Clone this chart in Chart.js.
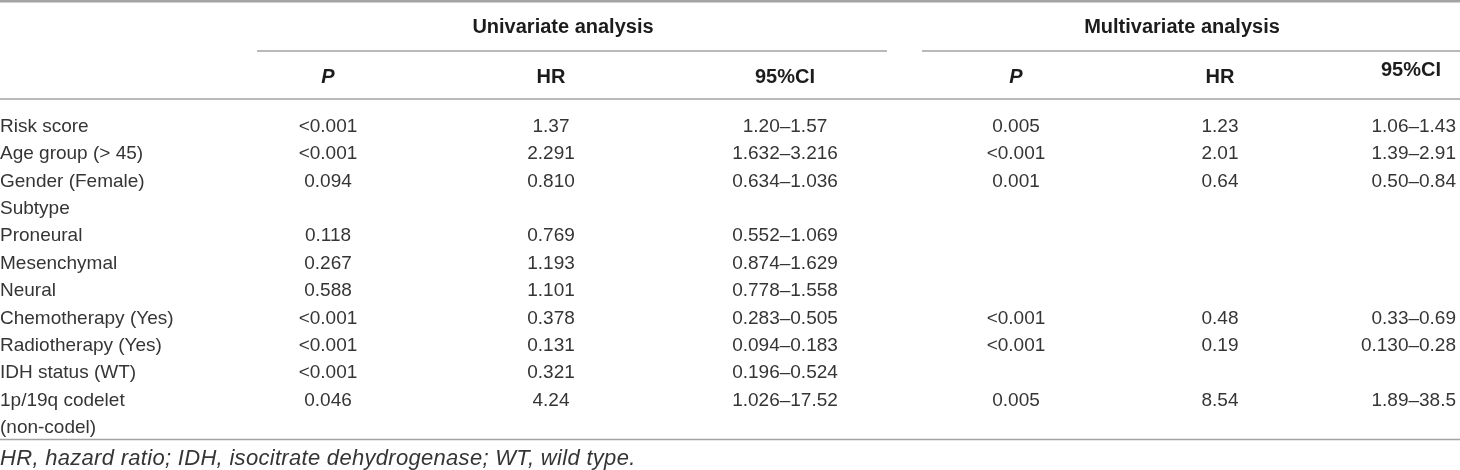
<!DOCTYPE html>
<html lang="en">
<head>
    <meta charset="UTF-8">
    <title>Cox regression table</title>
    <script src="https://cdn.jsdelivr.net/npm/chart.js"></script>
    <style>
        html, body { margin: 0; padding: 0; background: #fff; }
        canvas { display: block; }
    </style>
</head>
<body>
    <canvas id="tabela" width="1460" height="470"></canvas>
    <script>
        // table content
        const rowLabels = ['Risk score', 'Age group (> 45)', 'Gender (Female)', 'Subtype', 'Proneural', 'Mesenchymal',
            'Neural', 'Chemotherapy (Yes)', 'Radiotherapy (Yes)', 'IDH status (WT)', '1p/19q codelet', '(non-codel)']
        const uniP = ['<0.001', '<0.001', '0.094', '', '0.118', '0.267', '0.588', '<0.001', '<0.001', '<0.001', '0.046', '']
        const uniHR = ['1.37', '2.291', '0.810', '', '0.769', '1.193', '1.101', '0.378', '0.131', '0.321', '4.24', '']
        const uniCI = ['1.20–1.57', '1.632–3.216', '0.634–1.036', '', '0.552–1.069', '0.874–1.629', '0.778–1.558',
            '0.283–0.505', '0.094–0.183', '0.196–0.524', '1.026–17.52', '']
        const multiP = ['0.005', '<0.001', '0.001', '', '', '', '', '<0.001', '<0.001', '', '0.005', '']
        const multiHR = ['1.23', '2.01', '0.64', '', '', '', '', '0.48', '0.19', '', '8.54', '']
        const multiCI = ['1.06–1.43', '1.39–2.91', '0.50–0.84', '', '', '', '', '0.33–0.69', '0.130–0.28', '', '1.89–38.5', '']
        const groupTitles = ['Univariate analysis', 'Multivariate analysis']
        const colTitles = ['P', 'HR', '95%CI', 'P', 'HR', '95%CI']
        const footnote = 'HR, hazard ratio; IDH, isocitrate dehydrogenase; WT, wild type.'

        // layout: x in table units (= canvas px), y in row units (row 0 = first body row)
        const colX = [0, 328, 551, 785, 1016, 1220, 1456]
        const colAlign = ['left', 'center', 'center', 'center', 'center', 'center', 'right']
        const headX = [328, 551, 785, 1016, 1220, 1411]
        const groupSpan = [[257, 887], [922, 1460]]
        const groupX = [563, 1182]
        const yTop = -4.562, yBottom = 12.591
        const yTitle = -3.613, yGroupLine = -2.701, yColTitle = -1.788, yColTitleLast = -2.044
        const yHeadRule = -0.949, yTopRule = -4.52, yBottomRule = 11.478, yFoot = 12.117
        const textNudge = 1.5 // px, canvas 'middle' sits a bit high for this font

        const fonte = '"Liberation Sans", Arial, Helvetica, sans-serif'
        const corTexto = '#353535'
        const corLinha = '#a3a3a3'

        const colunas = [rowLabels, uniP, uniHR, uniCI, multiP, multiHR, multiCI]
        const datasets = colunas.map((col, c) => ({
            label: 'col' + c,
            texts: col,
            data: col.map((t, i) => ({ x: colX[c], y: i })),
            pointRadius: 0,
            showLine: false
        }))

        const linha = (ctx, x1, x2, y, w) => {
            ctx.beginPath()
            ctx.lineWidth = w
            ctx.strokeStyle = corLinha
            ctx.moveTo(x1, y)
            ctx.lineTo(x2, y)
            ctx.stroke()
        }

        const tabelaPlugin = {
            id: 'tabela',
            afterDatasetsDraw(chart) {
                const ctx = chart.ctx
                const sx = chart.scales.x
                const sy = chart.scales.y
                ctx.save()

                // rules
                linha(ctx, sx.getPixelForValue(0), sx.getPixelForValue(1460), sy.getPixelForValue(yTopRule), 2.5)
                groupSpan.forEach(s => linha(ctx, sx.getPixelForValue(s[0]), sx.getPixelForValue(s[1]), sy.getPixelForValue(yGroupLine), 1.5))
                linha(ctx, sx.getPixelForValue(0), sx.getPixelForValue(1460), sy.getPixelForValue(yHeadRule), 1.5)
                linha(ctx, sx.getPixelForValue(0), sx.getPixelForValue(1460), sy.getPixelForValue(yBottomRule), 1.5)

                // headers
                ctx.fillStyle = '#1c1c1c'
                ctx.textBaseline = 'middle'
                ctx.textAlign = 'center'
                ctx.font = 'bold 20px ' + fonte
                groupTitles.forEach((t, g) => ctx.fillText(t, sx.getPixelForValue(groupX[g]), sy.getPixelForValue(yTitle) + textNudge))
                colTitles.forEach((t, c) => {
                    ctx.font = (t === 'P' ? 'italic bold 20px ' : 'bold 20px ') + fonte
                    const yy = c === colTitles.length - 1 ? yColTitleLast : yColTitle
                    ctx.fillText(t, sx.getPixelForValue(headX[c]), sy.getPixelForValue(yy) + textNudge)
                })

                // body cells
                ctx.fillStyle = corTexto
                ctx.font = '19px ' + fonte
                chart.data.datasets.forEach((ds, d) => {
                    const meta = chart.getDatasetMeta(d)
                    ctx.textAlign = colAlign[d]
                    meta.data.forEach((pt, i) => {
                        if (ds.texts[i]) ctx.fillText(ds.texts[i], pt.x, pt.y + textNudge)
                    })
                })

                // footnote
                ctx.font = 'italic 22px ' + fonte
                ctx.letterSpacing = '0.3px'
                ctx.textAlign = 'left'
                ctx.fillText(footnote, sx.getPixelForValue(0), sy.getPixelForValue(yFoot) + textNudge)
                ctx.restore()
            }
        }

        const tabela = new Chart(document.getElementById('tabela'), {
            type: 'scatter',
            data: { datasets: datasets },
            options: {
                responsive: false,
                animation: false,
                layout: { padding: 0 },
                plugins: { legend: { display: false }, tooltip: { enabled: false } },
                scales: {
                    x: { type: 'linear', min: 0, max: 1460, display: false },
                    y: { type: 'linear', min: yTop, max: yBottom, reverse: true, display: false }
                }
            },
            plugins: [tabelaPlugin]
        })
    </script>
</body>
</html>
